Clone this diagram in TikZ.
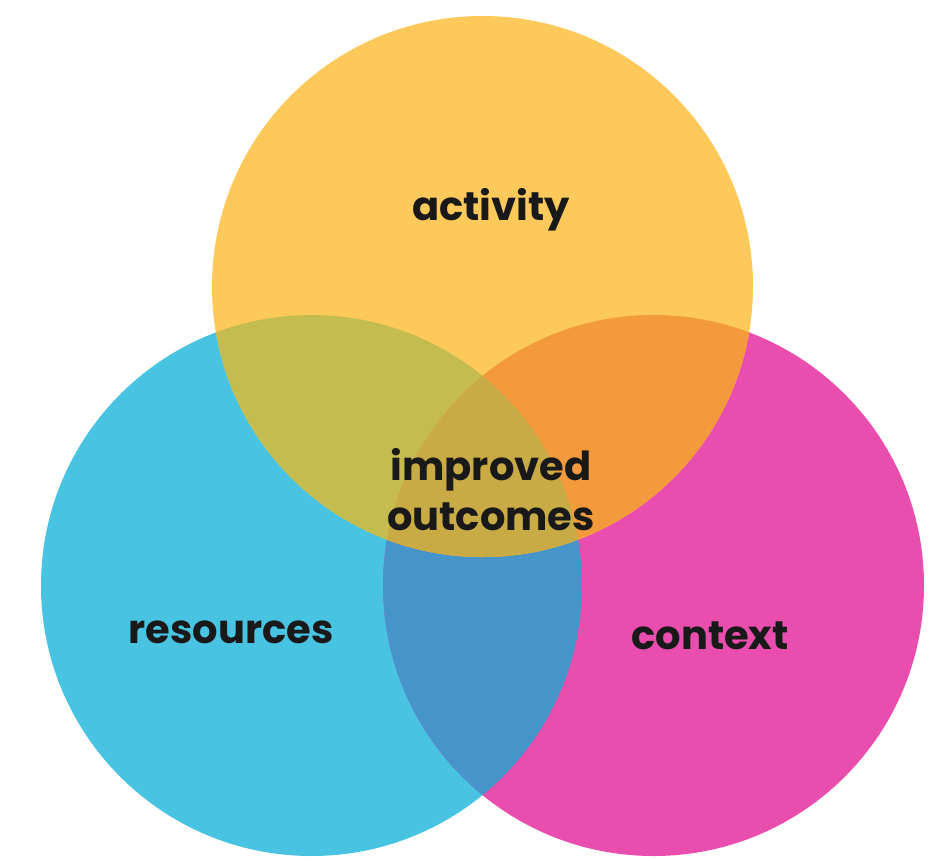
\documentclass[tikz,border=0pt]{standalone}
\usepackage{fontspec}
\setmainfont{Poppins}
\definecolor{cyel}{HTML}{FDC95B}
\definecolor{ccya}{HTML}{48C4E2}
\definecolor{cmag}{HTML}{E94DAE}
\definecolor{colive}{HTML}{C5BC4F}
\definecolor{corange}{HTML}{F39A3C}
\definecolor{cblue}{HTML}{4595CB}
\definecolor{ccenter}{HTML}{C8AB45}
\tikzset{
  lbl/.style={font=\fontsize{40}{50}\selectfont\bfseries, text=black!90, align=center, inner sep=0pt}
}
\begin{document}
\begin{tikzpicture}[x=1pt,y=-1pt]
\useasboundingbox (0,0) rectangle (948,860);
\def\R{270.5}
\coordinate (Y) at (482.5,286.5);
\coordinate (C) at (311.5,585.5);
\coordinate (M) at (653.5,585.5);
\fill[ccya] (C) circle[radius=\R];
\fill[cmag] (M) circle[radius=\R];
\begin{scope}
  \clip (C) circle[radius=\R];
  \fill[cblue] (M) circle[radius=\R];
\end{scope}
\fill[cyel] (Y) circle[radius=\R];
\begin{scope}
  \clip (Y) circle[radius=\R];
  \fill[colive] (C) circle[radius=\R];
  \fill[corange] (M) circle[radius=\R];
  \clip (C) circle[radius=\R];
  \fill[ccenter] (M) circle[radius=\R];
\end{scope}
\node[lbl] (act) at (491,210) {activity};
\node[lbl] (res) at (231,632) {resources};
\node[lbl] (con) at (710,636) {context};
\node[lbl] (imp) at (491,490) {improved\\outcomes};
\end{tikzpicture}
\end{document}
